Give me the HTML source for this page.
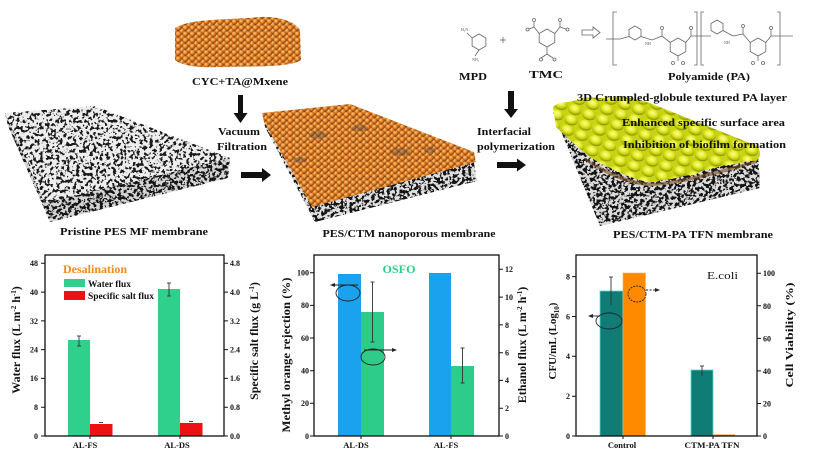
<!DOCTYPE html>
<html><head><meta charset="utf-8"><style>
html,body{margin:0;padding:0;background:#fff;}
svg{display:block;}
text{font-family:"Liberation Serif",serif;font-weight:bold;fill:#111;}
.t{font-size:8px;}
.ch{font-size:4px;font-weight:normal;fill:#555;}
</style></head><body>
<svg width="813" height="459" viewBox="0 0 813 459" xmlns="http://www.w3.org/2000/svg">
<defs>
<filter id="nz" x="0" y="0" width="1" height="1" color-interpolation-filters="sRGB">
 <feTurbulence type="fractalNoise" baseFrequency="0.3" numOctaves="2" seed="5"/>
 <feColorMatrix type="matrix" values="0 0 0 0 0.1  0 0 0 0 0.1  0 0 0 0 0.1  -14 0 0 0 6.7"/>
</filter>
<filter id="nzd" x="0" y="0" width="1" height="1" color-interpolation-filters="sRGB">
 <feTurbulence type="fractalNoise" baseFrequency="0.32" numOctaves="2" seed="11"/>
 <feColorMatrix type="matrix" values="0 0 0 0 0.08  0 0 0 0 0.08  0 0 0 0 0.08  -14 0 0 0 7.3"/>
</filter>
<radialGradient id="ball" cx="0.38" cy="0.35" r="0.65">
 <stop offset="0" stop-color="#ffd08a"/>
 <stop offset="0.45" stop-color="#ef8a2a"/>
 <stop offset="1" stop-color="#8a4210"/>
</radialGradient>
<pattern id="balls" width="7" height="6.2" patternUnits="userSpaceOnUse">
 <rect width="7" height="6.2" fill="#3e3a36"/>
 <circle cx="0" cy="0" r="2.9" fill="url(#ball)"/>
 <circle cx="7" cy="0" r="2.9" fill="url(#ball)"/>
 <circle cx="0" cy="6.2" r="2.9" fill="url(#ball)"/>
 <circle cx="7" cy="6.2" r="2.9" fill="url(#ball)"/>
 <circle cx="3.5" cy="3.1" r="2.9" fill="url(#ball)"/>
</pattern>
<radialGradient id="bump" cx="0.45" cy="0.35" r="0.62">
 <stop offset="0" stop-color="#fbfd9a"/>
 <stop offset="0.45" stop-color="#e6ee2c"/>
 <stop offset="0.85" stop-color="#b4be0c"/>
 <stop offset="1" stop-color="#7e8800"/>
</radialGradient>
<pattern id="yel" width="15" height="11" patternUnits="userSpaceOnUse" patternTransform="rotate(20)">
 <rect width="15" height="11" fill="#c8d414"/>
 <ellipse cx="7.5" cy="5.5" rx="7" ry="5.2" fill="url(#bump)"/>
</pattern>
<clipPath id="s1t"><polygon points="5,113 95,106 230,158 45,203"/></clipPath>
<clipPath id="s1f"><polygon points="45,203 230,158 228,178 50,222 8,126 5,113"/></clipPath>
<clipPath id="s2g"><polygon points="263,115 312,200 473,157 477,181 315,222 265,127"/></clipPath>
<clipPath id="s3g"><polygon points="553,112 758,152 760,188 600,226"/></clipPath>
</defs>
<rect width="813" height="459" fill="#fff"/>

<!-- ===== Slab 1 ===== -->
<g clip-path="url(#s1f)"><rect x="0" y="100" width="240" height="130" fill="#d4d4d4"/><rect x="0" y="100" width="240" height="130" filter="url(#nzd)"/></g>
<g clip-path="url(#s1t)"><rect x="0" y="100" width="240" height="110" fill="#eeeeee"/><rect x="0" y="100" width="240" height="110" filter="url(#nz)"/></g>

<!-- Mxene cluster -->
<path d="M175,28 C190,18 230,20 260,17 C280,16 295,22 300,30 L301,60 C290,68 250,66 220,67 C200,68 182,66 175,60 Z" fill="url(#balls)"/>
<text x="240" y="85" font-size="11" text-anchor="middle" textLength="96" lengthAdjust="spacingAndGlyphs">CYC+TA@Mxene</text>

<!-- arrows 1 -->
<path d="M238,95 H243 V113 H247.5 L240.5,123 L233.5,113 H238 Z" fill="#111"/>
<text x="239" y="135" font-size="10" text-anchor="middle" textLength="42" lengthAdjust="spacingAndGlyphs">Vacuum</text>
<text x="242" y="150" font-size="10" text-anchor="middle" textLength="50" lengthAdjust="spacingAndGlyphs">Filtration</text>
<path d="M241,172 H262 V168 L271,175 L262,182 V178 H241 Z" fill="#111"/>

<text x="134" y="235" font-size="11" text-anchor="middle" textLength="148" lengthAdjust="spacingAndGlyphs">Pristine PES MF membrane</text>

<!-- ===== Slab 2 ===== -->
<g clip-path="url(#s2g)"><rect x="255" y="100" width="230" height="130" fill="#e0e0e0"/><rect x="255" y="100" width="230" height="130" filter="url(#nzd)"/></g>
<polygon points="262,113 350,104 474,152 476,162 312,207 264,122" fill="url(#balls)"/>
<g fill="#4a4a4a" opacity="0.35">
<ellipse cx="318" cy="135" rx="9" ry="4"/><ellipse cx="360" cy="128" rx="8" ry="3.5"/><ellipse cx="400" cy="152" rx="10" ry="4"/><ellipse cx="300" cy="160" rx="7" ry="3"/><ellipse cx="430" cy="150" rx="6" ry="3"/>
</g>
<text x="409" y="237" font-size="11" text-anchor="middle" textLength="173" lengthAdjust="spacingAndGlyphs">PES/CTM nanoporous membrane</text>

<!-- ===== Chemistry ===== -->
<g fill="none" stroke="#666" stroke-width="0.8">
 <polygon points="479,34 485.9,38 485.9,46 479,50 472.1,46 472.1,38"/>
 <line x1="472.1" y1="38" x2="467" y2="33"/><line x1="479" y1="50" x2="475" y2="56"/>
 <line x1="500" y1="40" x2="506" y2="40"/><line x1="503" y1="37" x2="503" y2="43"/>
 <polygon points="547,29 554.8,33.5 554.8,42.5 547,47 539.2,42.5 539.2,33.5"/>
 <line x1="539.2" y1="33.5" x2="534" y2="27"/><line x1="534" y1="27" x2="529" y2="29"/><line x1="534" y1="27" x2="534" y2="22"/>
 <line x1="554.8" y1="33.5" x2="560" y2="27"/><line x1="560" y1="27" x2="566" y2="29"/><line x1="560" y1="27" x2="560" y2="22"/>
 <line x1="547" y1="47" x2="547" y2="54"/><line x1="547" y1="54" x2="541" y2="58"/><line x1="547" y1="54" x2="553" y2="58"/>
 <circle cx="534" cy="20" r="1.5"/><circle cx="560" cy="20" r="1.5"/><circle cx="541" cy="59.5" r="1.5"/><circle cx="527.5" cy="29.5" r="1.5"/><circle cx="567.5" cy="29.5" r="1.5"/><circle cx="554.5" cy="59.5" r="1.5"/>
 <path d="M582,30 H593 V27 L600,32.5 L593,38 V35 H582 Z"/>
 <path d="M617,12 H613 V65 H617"/><path d="M694,12 H697 V65 H694"/><path d="M704,12 H701 V65 H704"/><path d="M777,12 H780 V65 H777"/>
 <polygon points="635,26 641,29.5 641,36.5 635,40 629,36.5 629,29.5"/>
 <polygon points="678,38 685.8,42.5 685.8,51.5 678,56 670.2,51.5 670.2,42.5"/>
 <polygon points="717,20 723,23.5 723,30.5 717,34 711,30.5 711,23.5"/>
 <polygon points="758,38 765.8,42.5 765.8,51.5 758,56 750.2,51.5 750.2,42.5"/>
 <line x1="606" y1="39" x2="620" y2="39"/><line x1="620" y1="39" x2="629" y2="36.5"/>
 <line x1="641" y1="36.5" x2="652" y2="40"/><line x1="652" y1="40" x2="662" y2="36"/><line x1="662" y1="36" x2="670.2" y2="42.5"/><line x1="662" y1="36" x2="662" y2="30"/>
 <line x1="685.8" y1="42.5" x2="691" y2="36"/><line x1="691" y1="36" x2="691" y2="30"/><line x1="691" y1="36" x2="711" y2="36"/>
 <line x1="723" y1="30.5" x2="733" y2="36"/><line x1="733" y1="36" x2="743" y2="34"/><line x1="743" y1="34" x2="750.2" y2="42.5"/><line x1="743" y1="34" x2="743" y2="28"/>
 <line x1="765.8" y1="42.5" x2="771" y2="36"/><line x1="771" y1="36" x2="771" y2="30"/><line x1="771" y1="36" x2="793" y2="36"/>
 <line x1="678" y1="56" x2="678" y2="61"/><line x1="758" y1="56" x2="758" y2="61"/>
 <circle cx="673" cy="63" r="1.5"/><circle cx="683" cy="63" r="1.5"/><circle cx="753" cy="63" r="1.5"/><circle cx="763" cy="63" r="1.5"/>
 <circle cx="662" cy="28" r="1.5"/><circle cx="691" cy="28" r="1.5"/><circle cx="743" cy="26" r="1.5"/><circle cx="771" cy="28" r="1.5"/>
</g>
<text class="ch" x="461" y="31">H₂N</text><text class="ch" x="472" y="61">NH₂</text>
<text class="ch" x="645" y="45">NH</text><text class="ch" x="724" y="44">NH</text>
<text x="473" y="80" font-size="11" text-anchor="middle" textLength="28" lengthAdjust="spacingAndGlyphs">MPD</text>
<text x="546" y="78" font-size="11" text-anchor="middle" textLength="34" lengthAdjust="spacingAndGlyphs">TMC</text>
<text x="709" y="80" font-size="11" text-anchor="middle" textLength="82" lengthAdjust="spacingAndGlyphs">Polyamide (PA)</text>

<!-- arrows 2 -->
<path d="M508,91 H514 V109 H518 L511,118 L504,109 H508 Z" fill="#111"/>
<text x="477" y="135" font-size="10" textLength="54" lengthAdjust="spacingAndGlyphs">Interfacial</text>
<text x="477" y="150" font-size="10" textLength="78" lengthAdjust="spacingAndGlyphs">polymerization</text>
<path d="M497,162 H517 V158.5 L526,165 L517,171.5 V168 H497 Z" fill="#111"/>

<!-- ===== Slab 3 ===== -->
<g clip-path="url(#s3g)"><rect x="545" y="100" width="225" height="130" fill="#dcdcdc"/><rect x="545" y="100" width="225" height="130" filter="url(#nzd)"/></g>
<path d="M585,158 C605,170 630,182 652,183 C680,181 720,170 757,160 L757,163 C720,174 680,185 652,186 C628,186 605,174 585,161 Z" fill="#7a4a20" opacity="0.6"/>
<path d="M553,107 C560,100 570,104 578,99 C590,95 600,100 612,97 C625,95 640,100 650,103 L757,146 C762,152 760,158 756,161 C745,160 735,166 725,165 C712,170 705,168 695,175 C685,174 675,180 662,180 C655,183 648,183 640,180 C625,176 615,170 600,163 C585,155 570,140 556,127 Z" fill="url(#yel)"/>
<text x="577" y="101" font-size="11" textLength="210" lengthAdjust="spacingAndGlyphs">3D Crumpled-globule textured PA layer</text>
<text x="622" y="126" font-size="11" textLength="163" lengthAdjust="spacingAndGlyphs">Enhanced specific surface area</text>
<text x="623" y="148" font-size="11" textLength="163" lengthAdjust="spacingAndGlyphs">Inhibition of biofilm formation</text>
<text x="693" y="238" font-size="11" text-anchor="middle" textLength="160" lengthAdjust="spacingAndGlyphs">PES/CTM-PA TFN membrane</text>

<!-- ===== Chart 1 ===== -->
<rect x="68" y="340" width="22" height="96" fill="#2fcf8c"/>
<rect x="90" y="424" width="22.5" height="12" fill="#ee1111"/>
<rect x="158" y="289" width="22" height="147" fill="#2fcf8c"/>
<rect x="180" y="423" width="22.5" height="13" fill="#ee1111"/>
<g stroke="#333" stroke-width="0.9">
<line x1="79" y1="336" x2="79" y2="346"/><line x1="77" y1="336" x2="81" y2="336"/><line x1="77" y1="346" x2="81" y2="346"/>
<line x1="169" y1="283" x2="169" y2="296"/><line x1="167" y1="283" x2="171" y2="283"/><line x1="167" y1="296" x2="171" y2="296"/>
<line x1="99" y1="422.5" x2="103" y2="422.5"/><line x1="189" y1="421.5" x2="193" y2="421.5"/>
</g>
<rect x="45" y="255" width="179" height="181" fill="none" stroke="#111" stroke-width="1.3"/>
<g stroke="#111" stroke-width="1">
<path d="M41,436H45M41,407.2H45M41,378.4H45M41,349.6H45M41,320.9H45M41,292.1H45M41,263.3H45"/>
<path d="M224,436H228M224,407.2H228M224,378.4H228M224,349.6H228M224,320.9H228M224,292.1H228M224,263.3H228"/>
<path d="M90,436V439M180,436V439"/>
</g>
<g class="t" text-anchor="end">
<text x="38" y="439">0</text><text x="38" y="410">8</text><text x="38" y="381">16</text><text x="38" y="352.5">24</text><text x="38" y="324">32</text><text x="38" y="295">40</text><text x="38" y="266">48</text>
</g>
<g class="t">
<text x="230" y="439">0.0</text><text x="230" y="410">0.8</text><text x="230" y="381">1.6</text><text x="230" y="352.5">2.4</text><text x="230" y="324">3.2</text><text x="230" y="295">4.0</text><text x="230" y="266">4.8</text>
</g>
<text x="85" y="448" font-size="8.5" text-anchor="middle">AL-FS</text>
<text x="177" y="448" font-size="8.5" text-anchor="middle">AL-DS</text>
<text x="63" y="273" font-size="11.5" style="fill:#f08a1c" textLength="64" lengthAdjust="spacingAndGlyphs">Desalination</text>
<rect x="64" y="279" width="21" height="8" fill="#2fcf8c"/>
<rect x="64" y="291" width="21" height="9" fill="#ee1111"/>
<text x="88" y="287" font-size="9" textLength="43" lengthAdjust="spacingAndGlyphs">Water flux</text>
<text x="88" y="299" font-size="9" textLength="66" lengthAdjust="spacingAndGlyphs">Specific salt flux</text>
<text transform="translate(20,340) rotate(-90)" font-size="12" text-anchor="middle">Water flux (L m<tspan dy="-4" font-size="7">-2</tspan><tspan dy="4"> h</tspan><tspan dy="-4" font-size="7">-1</tspan><tspan dy="4">)</tspan></text>
<text transform="translate(258,341) rotate(-90)" font-size="12" text-anchor="middle">Specific salt flux (g L<tspan dy="-4" font-size="7">-1</tspan><tspan dy="4">)</tspan></text>

<!-- ===== Chart 2 ===== -->
<rect x="338" y="274" width="23" height="162" fill="#1aa2ee"/>
<rect x="361" y="312" width="23" height="124" fill="#2dcc8a"/>
<rect x="429" y="273" width="22" height="163" fill="#1aa2ee"/>
<rect x="451" y="366" width="23" height="70" fill="#2dcc8a"/>
<g stroke="#333" stroke-width="0.9">
<line x1="372.5" y1="282" x2="372.5" y2="342"/><line x1="370.5" y1="282" x2="374.5" y2="282"/><line x1="370.5" y1="342" x2="374.5" y2="342"/>
<line x1="462.5" y1="348" x2="462.5" y2="383"/><line x1="460.5" y1="348" x2="464.5" y2="348"/><line x1="460.5" y1="383" x2="464.5" y2="383"/>
</g>
<g fill="none" stroke="#222" stroke-width="0.9">
<ellipse cx="348" cy="293" rx="12" ry="8"/>
<line x1="333" y1="285" x2="358" y2="285"/>
<ellipse cx="373" cy="357" rx="12" ry="8"/>
<line x1="364" y1="350" x2="394" y2="350"/>
</g>
<path d="M330,285 L335,283 L335,287 Z" fill="#222"/>
<path d="M397,350 L392,348 L392,352 Z" fill="#222"/>
<rect x="314" y="255" width="185" height="181" fill="none" stroke="#111" stroke-width="1.3"/>
<g stroke="#111" stroke-width="1">
<path d="M310,436H314M310,403.3H314M310,370.7H314M310,338H314M310,305.4H314M310,272.7H314"/>
<path d="M499,436H503M499,408.2H503M499,380.4H503M499,352.7H503M499,324.9H503M499,297.1H503M499,269.3H503"/>
<path d="M361,436V439M451,436V439"/>
</g>
<g class="t" text-anchor="end">
<text x="309" y="439">0</text><text x="309" y="406">20</text><text x="309" y="373.5">40</text><text x="309" y="341">60</text><text x="309" y="308">80</text><text x="309" y="275.5">100</text>
</g>
<g class="t">
<text x="505" y="439">0</text><text x="505" y="411">2</text><text x="505" y="383">4</text><text x="505" y="355.5">6</text><text x="505" y="328">8</text><text x="505" y="300">10</text><text x="505" y="272">12</text>
</g>
<text x="356" y="448" font-size="8.5" text-anchor="middle">AL-DS</text>
<text x="446" y="448" font-size="8.5" text-anchor="middle">AL-FS</text>
<text x="399" y="273" font-size="12" text-anchor="middle" style="fill:#2dcc8a" textLength="33" lengthAdjust="spacingAndGlyphs">OSFO</text>
<text transform="translate(290,355) rotate(-90)" font-size="12" text-anchor="middle" textLength="155" lengthAdjust="spacingAndGlyphs">Methyl orange rejection (%)</text>
<text transform="translate(526,345) rotate(-90)" font-size="12" text-anchor="middle">Ethanol flux (L m<tspan dy="-4" font-size="7">-2</tspan><tspan dy="4"> h</tspan><tspan dy="-4" font-size="7">-1</tspan><tspan dy="4">)</tspan></text>

<!-- ===== Chart 3 ===== -->
<rect x="600" y="291" width="23" height="145" fill="#0f7d75" stroke="#5ad8d0" stroke-width="0.8"/>
<rect x="623" y="273" width="22.5" height="163" fill="#ff8a00" stroke="#ffb050" stroke-width="0.6"/>
<rect x="691" y="370" width="22" height="66" fill="#0f7d75" stroke="#5ad8d0" stroke-width="0.8"/>
<rect x="713" y="434.5" width="22" height="1.5" fill="#ff8a00"/>
<g stroke="#333" stroke-width="0.9">
<line x1="611" y1="277" x2="611" y2="305"/><line x1="609" y1="277" x2="613" y2="277"/>
<line x1="702" y1="366" x2="702" y2="376"/><line x1="700" y1="366" x2="704" y2="366"/>
</g>
<g fill="none" stroke="#223" stroke-width="0.9">
<ellipse cx="609" cy="321" rx="13" ry="8"/>
<line x1="591" y1="316" x2="600" y2="316"/>
<ellipse cx="637" cy="294" rx="9" ry="8" stroke-dasharray="2,1"/>
<line x1="646" y1="290" x2="657" y2="290" stroke-dasharray="2,1.5"/>
</g>
<path d="M588,316 L593,314 L593,318 Z" fill="#223"/>
<path d="M660,290 L655,288 L655,292 Z" fill="#223"/>
<rect x="576" y="255" width="181" height="181" fill="none" stroke="#111" stroke-width="1.3"/>
<g stroke="#111" stroke-width="1">
<path d="M572,436H576M572,396.2H576M572,356.3H576M572,316.5H576M572,276.6H576"/>
<path d="M757,436H761M757,403.5H761M757,370.9H761M757,338.4H761M757,305.8H761M757,273.3H761"/>
<path d="M623,436V439M713,436V439"/>
</g>
<g class="t" text-anchor="end">
<text x="570" y="439">0</text><text x="570" y="399">2</text><text x="570" y="359">4</text><text x="570" y="319.5">6</text><text x="570" y="279.5">8</text>
</g>
<g class="t">
<text x="763" y="439">0</text><text x="763" y="406.5">20</text><text x="763" y="374">40</text><text x="763" y="341.5">60</text><text x="763" y="309">80</text><text x="763" y="276">100</text>
</g>
<text x="622" y="448" font-size="8.5" text-anchor="middle">Control</text>
<text x="712" y="448" font-size="8.5" text-anchor="middle" textLength="55" lengthAdjust="spacingAndGlyphs">CTM-PA TFN</text>
<text x="707" y="279" font-size="11" style="font-weight:normal" textLength="31" lengthAdjust="spacingAndGlyphs">E.coli</text>
<text transform="translate(556,341) rotate(-90)" font-size="11" text-anchor="middle">CFU/mL (Log<tspan dy="3" font-size="7">10</tspan><tspan dy="-3">)</tspan></text>
<text transform="translate(793,335) rotate(-90)" font-size="11" text-anchor="middle" textLength="105" lengthAdjust="spacingAndGlyphs">Cell Viability (%)</text>
</svg>
</body></html>
